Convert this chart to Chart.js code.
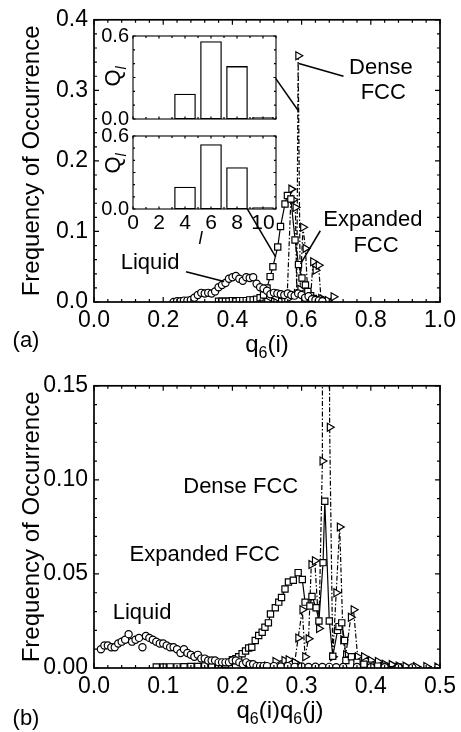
<!DOCTYPE html>
<html>
<head>
<meta charset="utf-8">
<script src="https://cdn.jsdelivr.net/npm/chart.js@4"></script>
<style>
body { margin: 0; background: #fff; }
#wrap { position: relative; width: 461px; height: 732px; }
canvas { position: absolute; }
</style>
</head>
<body>
<div id="wrap">
  <canvas id="chartA" width="461" height="366" style="left:0;top:0"></canvas>
  <canvas id="chartB" width="461" height="366" style="left:0;top:366px"></canvas>
  <canvas id="insetTop" width="195" height="115" style="left:90px;top:20px"></canvas>
  <canvas id="insetBottom" width="195" height="135" style="left:90px;top:120px"></canvas>
</div>
<script>
// (a) distribution of q6(i)
var qLiquidA = [0.23,0.24,0.25,0.26,0.27,0.28,0.29,0.30,0.31,0.32,0.33,0.34,0.35,0.36,0.37,0.38,0.39,0.40,0.41,0.42,0.43,0.44,
  0.45,0.46,0.47,0.48,0.49,0.50,0.51,0.52,0.53,0.54,0.55,0.56,0.57,0.58,0.59,0.60,0.61,0.62,0.63,0.64,0.65,0.66];
var fLiquidA = [0.000,0.001,0.001,0.002,0.002,0.003,0.006,0.010,0.013,0.012,0.013,0.012,0.015,0.021,0.024,0.027,0.033,0.035,0.037,0.033,0.030,0.035,
  0.034,0.035,0.026,0.021,0.019,0.016,0.011,0.013,0.012,0.011,0.010,0.012,0.010,0.009,0.012,0.010,0.006,0.008,0.004,0.003,0.002,0.001];

var qExpandedA = [0.36,0.37,0.38,0.39,0.40,0.41,0.42,0.43,0.44,0.45,0.46,0.47,0.48,0.49,0.50,0.509,0.517,0.531,0.539,0.552,0.559,0.569,
  0.581,0.591,0.601,0.611,0.618,0.626,0.634,0.642,0.65];
var fExpandedA = [0.001,0.001,0.001,0.001,0.002,0.001,0.002,0.002,0.002,0.003,0.003,0.004,0.006,0.010,0.020,0.036,0.050,0.078,0.107,0.139,0.151,0.146,
  0.088,0.053,0.034,0.024,0.015,0.009,0.005,0.003,0.001];

var qDenseA = [0.50,0.52,0.54,0.55,0.558,0.570,0.576,0.582,0.586,0.590,0.596,0.604,0.611,0.618,0.626,0.633,0.640,0.649,0.656,0.665,0.675,0.692];
var fDenseA = [0.001,0.001,0.001,0.002,0.004,0.160,0.145,0.134,0.012,0.349,0.018,0.106,0.076,0.010,0.006,0.057,0.045,0.052,0.005,0.003,0.002,0.0075];

// (b) distribution of q6(i)q6(j)
var qLiquidB = [0.010,0.015,0.020,0.025,0.030,0.035,0.040,0.045,0.050,0.055,0.060,0.065,0.070,0.075,0.080,0.085,0.090,0.095,0.100,0.105,
  0.110,0.115,0.120,0.125,0.130,0.135,0.140,0.145,0.150,0.155,0.160,0.165,0.170,0.175,0.180,0.185,0.190,0.195,0.200,0.205,0.210,0.215,
  0.220,0.225,0.230,0.235,0.240,0.245,0.250,0.26,0.27,0.28,0.29,0.30,0.31,0.32,0.33,0.34,0.35,0.36,0.38,0.40,0.42,0.44,0.46];
var fLiquidB = [0.010,0.012,0.012,0.011,0.011,0.013,0.014,0.015,0.018,0.014,0.015,0.016,0.011,0.017,0.016,0.015,0.014,0.013,0.013,0.012,
  0.011,0.011,0.010,0.008,0.010,0.008,0.007,0.006,0.007,0.005,0.005,0.004,0.004,0.004,0.003,0.003,0.003,0.003,0.004,0.004,0.003,0.002,
  0.003,0.002,0.002,0.001,0.001,0.001,0.001,0.001,0.0008,0.001,0.0006,0.0008,0.0005,0.0007,0.0005,0.0006,0.0004,0.0005,0.0005,0.0004,0.0004,0.0003,0.0003];

var qExpandedB = [0.09,0.10,0.11,0.12,0.13,0.14,0.15,0.16,0.17,0.18,0.19,0.195,0.200,0.205,0.209,0.214,0.219,0.2235,0.228,0.233,
  0.238,0.243,0.247,0.252,0.255,0.262,0.267,0.271,0.276,0.281,0.288,0.295,0.301,0.305,0.312,0.315,0.321,0.325,0.331,
  0.3335,0.340,0.345,0.352,0.354,0.358,0.362,0.364,0.372,0.38,0.39,0.40,0.41,0.42,0.44];
var fExpandedB = [0.0005,0.0005,0.0006,0.0006,0.0007,0.0008,0.0008,0.001,0.0012,0.0015,0.002,0.003,0.0044,0.005,0.006,0.0076,0.009,0.0106,0.011,0.0146,
  0.0173,0.019,0.0217,0.024,0.0287,0.032,0.035,0.0375,0.042,0.0457,0.0466,0.0507,0.047,0.035,0.033,0.038,0.032,0.025,0.056,
  0.0886,0.025,0.0062,0.020,0.022,0.024,0.0146,0.004,0.006,0.003,0.002,0.0015,0.001,0.001,0.0005];

var qDenseB = [0.24,0.25,0.262,0.275,0.281,0.290,0.295,0.301,0.305,0.310,0.314,0.319,0.325,0.330,0.331,0.339,0.3405,0.345,0.350,0.355,
  0.360,0.364,0.371,0.375,0.381,0.390,0.400,0.410,0.420,0.430,0.440,0.450,0.465,0.480,0.496];
var fDenseB = [0.0005,0.001,0.0035,0.004,0.0044,0.003,0.016,0.031,0.006,0.0155,0.055,0.057,0.021,0.110,0.45,0.45,0.128,0.006,0.040,0.075,
  0.015,0.007,0.027,0.031,0.006,0.006,0.004,0.0035,0.002,0.0018,0.001,0.001,0.0008,0.0008,0.0005];

// insets: Q_l against l
var lValues = [4, 6, 8, 10];
var qlDense = [0.18, 0.56, 0.38, 0.012];
var qlExpanded = [0.18, 0.53, 0.34, 0.012];

var fam = '"Liberation Sans", Arial, Helvetica, sans-serif';
Chart.defaults.font.family = fam;
Chart.defaults.color = '#000';

function pts(xs, ys) {
  return xs.map(function (x, i) { return { x: x, y: ys[i] }; });
}

// text pieces: [text, subscript, italic]
function rich(ctx, parts, x, y, size, rot) {
  ctx.save();
  ctx.translate(x, y);
  if (rot) ctx.rotate(rot);
  function font(p) { return (p[2] ? 'italic ' : '') + Math.round(p[1] ? size * 0.65 : size) + 'px ' + fam; }
  var w = 0;
  parts.forEach(function (p) { ctx.font = font(p); w += ctx.measureText(p[0]).width; });
  var cx = -w / 2;
  ctx.textAlign = 'left';
  ctx.textBaseline = 'alphabetic';
  ctx.fillStyle = '#000';
  parts.forEach(function (p) {
    ctx.font = font(p);
    ctx.fillText(p[0], cx, p[1] ? size * 0.25 : 0);
    cx += ctx.measureText(p[0]).width;
  });
  ctx.restore();
}

function isMajor(v, step) {
  var r = v / step;
  return Math.abs(r - Math.round(r)) < 1e-6;
}

// box round the plot and inward ticks on all four sides
var frameTicks = {
  id: 'frameTicks',
  afterDatasetsDraw: function (chart, args, o) {
    var a = chart.chartArea, ctx = chart.ctx, xs = chart.scales.x, ys = chart.scales.y;
    var i, v, px, len, n;
    ctx.save();
    ctx.strokeStyle = '#000';
    ctx.lineWidth = 1.2;
    ctx.beginPath();
    n = Math.round((xs.max - xs.min) / o.xMinor);
    for (i = 0; i <= n; i++) {
      v = xs.min + i * o.xMinor;
      len = isMajor(v, o.xMajor) ? o.major : o.minor;
      px = xs.getPixelForValue(v);
      ctx.moveTo(px, a.bottom); ctx.lineTo(px, a.bottom - len);
      ctx.moveTo(px, a.top); ctx.lineTo(px, a.top + len);
    }
    n = Math.round((ys.max - ys.min) / o.yMinor);
    for (i = 0; i <= n; i++) {
      v = ys.min + i * o.yMinor;
      len = isMajor(v, o.yMajor) ? o.major : o.minor;
      px = ys.getPixelForValue(v);
      ctx.moveTo(a.left, px); ctx.lineTo(a.left + len, px);
      ctx.moveTo(a.right, px); ctx.lineTo(a.right - len, px);
    }
    ctx.stroke();
    ctx.lineWidth = o.frame;
    ctx.strokeRect(a.left, a.top, a.right - a.left, a.bottom - a.top);
    ctx.restore();
  }
};

// labels, pointer lines, axis title with subscripts, panel letter
var notes = {
  id: 'notes',
  afterDraw: function (chart, args, o) {
    var ctx = chart.ctx, xs = chart.scales.x, ys = chart.scales.y, a = chart.chartArea;
    ctx.save();
    ctx.strokeStyle = '#000';
    ctx.lineWidth = 1.5;
    o.pointers.forEach(function (p) {
      ctx.beginPath();
      ctx.moveTo(xs.getPixelForValue(p[0]), ys.getPixelForValue(p[1]));
      ctx.lineTo(xs.getPixelForValue(p[2]), ys.getPixelForValue(p[3]));
      ctx.stroke();
    });
    ctx.fillStyle = '#000';
    ctx.textAlign = 'center';
    ctx.textBaseline = 'middle';
    ctx.font = '22px ' + fam;
    o.labels.forEach(function (l) {
      ctx.fillText(l[0], xs.getPixelForValue(l[1]), ys.getPixelForValue(l[2]));
    });
    ctx.fillText(o.panel, 26, o.panelY);
    ctx.restore();
    rich(ctx, o.xTitle, (a.left + a.right) / 2 + o.xTitleDx, a.bottom + 50, 24);
  }
};

var insetDecor = {
  id: 'insetDecor',
  afterDraw: function (chart, args, o) {
    var a = chart.chartArea;
    rich(chart.ctx, [['Q', 0], ['l', 1, 1]], a.left - 13, (a.top + a.bottom) / 2 + o.qDy, 22, -Math.PI / 2);
    if (o.xTitle) {
      rich(chart.ctx, [['l', 0, 1]], chart.scales.x.getPixelForValue(5.2), a.bottom + 35, 18);
    }
  }
};

function mainConfig(sets, xMax, xStep, yMax, yStep, xDec, yDec, frame, annot) {
  var mark = { borderColor: '#000', pointBorderColor: '#000', pointBackgroundColor: '#fff', pointBorderWidth: 1.2, borderWidth: 1.2 };
  return {
    type: 'scatter',
    data: {
      datasets: [
        Object.assign({ label: 'Liquid', data: sets[0], pointStyle: 'circle', pointRadius: 3.6, showLine: false }, mark),
        Object.assign({ label: 'Expanded FCC', data: sets[1], pointStyle: 'rect', pointRadius: 4.4, showLine: true }, mark),
        Object.assign({ label: 'Dense FCC', data: sets[2], pointStyle: 'triangle', pointRotation: 90, pointRadius: 4.6,
          showLine: true, borderWidth: 1.4, borderDash: [5, 2, 1.5, 2] }, mark)
      ]
    },
    options: {
      responsive: false,
      animation: false,
      events: [],
      layout: { padding: { top: 17, right: 18, left: 0, bottom: 0 } },
      plugins: { legend: { display: false }, tooltip: { enabled: false }, frameTicks: frame, notes: annot },
      scales: {
        x: {
          type: 'linear', min: 0, max: xMax,
          grid: { display: false, drawTicks: false }, border: { display: false },
          ticks: { stepSize: xStep, padding: 5, autoSkip: false, maxRotation: 0, font: { size: 23 },
            callback: function (v) { return v.toFixed(xDec); } },
          afterFit: function (s) { s.height = 64; }
        },
        y: {
          min: 0, max: yMax,
          grid: { display: false, drawTicks: false }, border: { display: false },
          ticks: { stepSize: yStep, padding: 6, font: { size: 23 },
            callback: function (v) { return v.toFixed(yDec); } },
          title: { display: true, text: 'Frequency of Occurrence', font: { size: 24 }, padding: { top: 18 } },
          afterFit: function (s) { s.width = 94; }
        }
      }
    },
    plugins: [frameTicks, notes]
  };
}

function insetConfig(values, showX, xHeight, top, qDy) {
  return {
    type: 'bar',
    data: {
      datasets: [{ data: pts(lValues, values), backgroundColor: '#fff', borderColor: '#000', borderWidth: 1.3,
        borderSkipped: false, barThickness: 21 }]
    },
    options: {
      responsive: false,
      animation: false,
      events: [],
      layout: { padding: { top: top, right: 9, left: 0, bottom: 0 } },
      plugins: {
        legend: { display: false }, tooltip: { enabled: false },
        frameTicks: { xMajor: 2, xMinor: 1, yMajor: 0.3, yMinor: 0.1, major: 2.5, minor: 2, frame: 1.1 },
        insetDecor: { qDy: qDy, xTitle: showX }
      },
      scales: {
        x: {
          type: 'linear', min: 0, max: 11, offset: false,
          grid: { display: false, drawTicks: false }, border: { display: false },
          ticks: { display: showX, stepSize: 2, includeBounds: false, padding: 2, autoSkip: false, maxRotation: 0, font: { size: 21 } },
          afterFit: function (s) { s.height = xHeight; }
        },
        y: {
          min: 0, max: 0.6,
          grid: { display: false, drawTicks: false }, border: { display: false },
          ticks: { stepSize: 0.6, padding: 4, font: { size: 20 }, callback: function (v) { return v.toFixed(1); } },
          afterFit: function (s) { s.width = 43; }
        }
      }
    },
    plugins: [frameTicks, insetDecor]
  };
}

new Chart(document.getElementById('chartA'), mainConfig(
  [pts(qLiquidA, fLiquidA), pts(qExpandedA, fExpandedA), pts(qDenseA, fDenseA)],
  1, 0.2, 0.4, 0.1, 1, 1,
  { xMajor: 0.2, xMinor: 0.04, yMajor: 0.1, yMinor: 0.02, major: 5, minor: 3, frame: 1.7 },
  {
    labels: [['Dense', 0.829, 0.332], ['FCC', 0.836, 0.296], ['Expanded', 0.806, 0.117], ['FCC', 0.815, 0.080], ['Liquid', 0.162, 0.056]],
    pointers: [[0.721, 0.320, 0.592, 0.338], [0.525, 0.317, 0.592, 0.270], [0.443, 0.132, 0.525, 0.064],
      [0.654, 0.101, 0.597, 0.054], [0.266, 0.043, 0.376, 0.029]],
    xTitle: [['q', 0], ['6', 1], ['(i)', 0]], xTitleDx: 0, panel: '(a)', panelY: 341
  }
));

new Chart(document.getElementById('chartB'), mainConfig(
  [pts(qLiquidB, fLiquidB), pts(qExpandedB, fExpandedB), pts(qDenseB, fDenseB)],
  0.5, 0.1, 0.15, 0.05, 1, 2,
  { xMajor: 0.1, xMinor: 0.02, yMajor: 0.05, yMinor: 0.01, major: 5, minor: 3, frame: 1.7 },
  {
    labels: [['Dense FCC', 0.212, 0.0965], ['Expanded FCC', 0.160, 0.060], ['Liquid', 0.0695, 0.0292]],
    pointers: [],
    xTitle: [['q', 0], ['6', 1], ['(i)q', 0], ['6', 1], ['(j)', 0]], xTitleDx: 13, panel: '(b)', panelY: 353
  }
));

new Chart(document.getElementById('insetTop'), insetConfig(qlDense, false, 16, 15, -1));
new Chart(document.getElementById('insetBottom'), insetConfig(qlExpanded, true, 46, 16, -9));
</script>
</body>
</html>
